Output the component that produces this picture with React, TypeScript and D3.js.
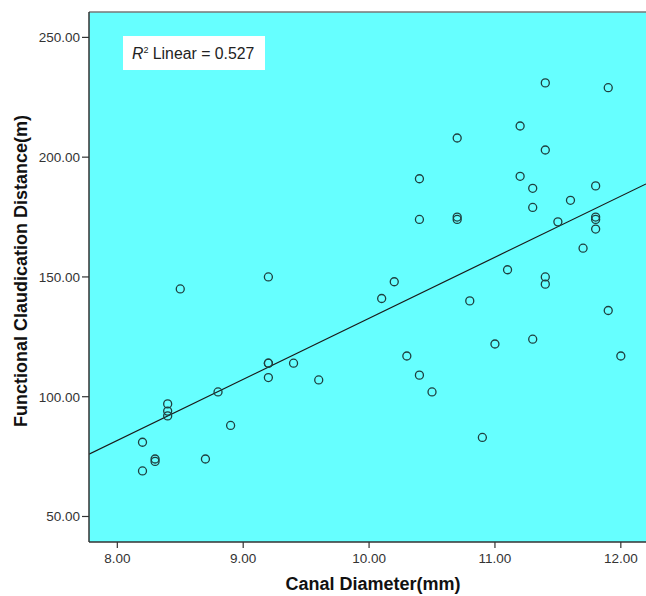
import React from "react";
import * as d3 from "d3";

const canalDiameter = [
  8.2, 8.2, 8.3, 8.3, 8.4, 8.4, 8.4, 8.5, 8.7, 8.8, 8.9,
  9.2, 9.2, 9.2, 9.2, 9.4, 9.6,
  10.1, 10.2, 10.3, 10.4, 10.4, 10.4, 10.5, 10.7, 10.7, 10.7, 10.8, 10.9,
  11.0, 11.1, 11.2, 11.2, 11.3, 11.3, 11.3, 11.4, 11.4, 11.4, 11.4, 11.5,
  11.6, 11.7, 11.8, 11.8, 11.8, 11.8, 11.9, 11.9, 12.0,
];
const claudicationDistance = [
  81, 69, 74, 73, 97, 94, 92, 145, 74, 102, 88,
  150, 114, 114, 108, 114, 107,
  141, 148, 117, 191, 174, 109, 102, 208, 175, 174, 140, 83,
  122, 153, 213, 192, 187, 179, 124, 231, 203, 150, 147, 173,
  182, 162, 188, 175, 174, 170, 229, 136, 117,
];
const xTicks = [8, 9, 10, 11, 12];
const yTicks = [50, 100, 150, 200, 250];
const xDomain = [7.775, 12.2];
const yDomain = [39.35, 260.6];
const r2Label = "0.527";
const xTitle = "Canal Diameter(mm)";
const yTitle = "Functional Claudication Distance(m)";

const W = 646;
const H = 596;
const M = { left: 89, top: 12, right: 646, bottom: 542 };
const FONT = "'Liberation Sans', Arial, sans-serif";

export default function App() {
  const x = d3.scaleLinear().domain(xDomain).range([M.left, M.right]);
  const y = d3.scaleLinear().domain(yDomain).range([M.bottom, M.top]);

  const n = canalDiameter.length;
  const mx = d3.mean(canalDiameter) as number;
  const my = d3.mean(claudicationDistance) as number;
  let sxy = 0, sxx = 0;
  for (let i = 0; i < n; i++) {
    sxy += (canalDiameter[i] - mx) * (claudicationDistance[i] - my);
    sxx += (canalDiameter[i] - mx) ** 2;
  }
  const slope = sxy / sxx;
  const intercept = my - slope * mx;
  const fitLine = d3
    .line<number>()
    .x((d) => x(d))
    .y((d) => y(intercept + slope * d));

  return (
    <svg
      width={W}
      height={H}
      style={{ position: "absolute", left: 0, top: 0, display: "block" }}
      fontFamily={FONT}
    >
      <rect x={0} y={0} width={W} height={H} fill="#ffffff" />
      <defs>
        <clipPath id="plotClip">
          <rect x={M.left} y={M.top} width={M.right - M.left} height={M.bottom - M.top} />
        </clipPath>
      </defs>
      <rect
        x={M.left}
        y={M.top}
        width={M.right - M.left}
        height={M.bottom - M.top}
        fill="#66ffff"
      />
      <g clipPath="url(#plotClip)">
        <path
          d={fitLine(xDomain) || ""}
          fill="none"
          stroke="#1a1a1a"
          strokeWidth={1.2}
        />
        {canalDiameter.map((d, i) => (
          <circle
            key={i}
            cx={x(d)}
            cy={y(claudicationDistance[i])}
            r={4}
            fill="none"
            stroke="#1f3f3f"
            strokeWidth={1.3}
          />
        ))}
      </g>
      {/* frame */}
      <line x1={M.left} x2={M.right} y1={M.top} y2={M.top} stroke="#777" strokeWidth={1.5} />
      <line x1={M.left} x2={M.left} y1={M.top} y2={M.bottom} stroke="#333" strokeWidth={1.5} />
      <line x1={M.left} x2={M.right} y1={M.bottom} y2={M.bottom} stroke="#333" strokeWidth={1.5} />

      {/* R2 label */}
      <rect x={123} y={36} width={142} height={34} fill="#ffffff" />
      <text x={132} y={59} fontSize={15.8} fill="#222">
        <tspan fontStyle="italic">R</tspan>
        <tspan fontSize={9} dy={-6}>2</tspan>
        <tspan dy={6}>{` Linear = ${r2Label}`}</tspan>
      </text>

      {/* x axis */}
      {xTicks.map((t) => (
        <g key={t}>
          <line x1={x(t)} x2={x(t)} y1={M.bottom} y2={M.bottom + 6} stroke="#333" strokeWidth={1.2} />
          <text x={x(t)} y={563} fontSize={13.5} textAnchor="middle" fill="#333">
            {t.toFixed(2)}
          </text>
        </g>
      ))}
      {/* y axis */}
      {yTicks.map((t) => (
        <g key={t}>
          <line x1={M.left - 7} x2={M.left} y1={y(t)} y2={y(t)} stroke="#333" strokeWidth={1.2} />
          <text x={80} y={y(t)} dy="0.36em" fontSize={13.5} textAnchor="end" fill="#333">
            {t.toFixed(2)}
          </text>
        </g>
      ))}

      <text x={373} y={590} fontSize={18} fontWeight="bold" textAnchor="middle" fill="#111">
        {xTitle}
      </text>
      <text
        transform={`translate(27, 271) rotate(-90)`}
        fontSize={18}
        fontWeight="bold"
        textAnchor="middle"
        fill="#111"
      >
        {yTitle}
      </text>
    </svg>
  );
}
